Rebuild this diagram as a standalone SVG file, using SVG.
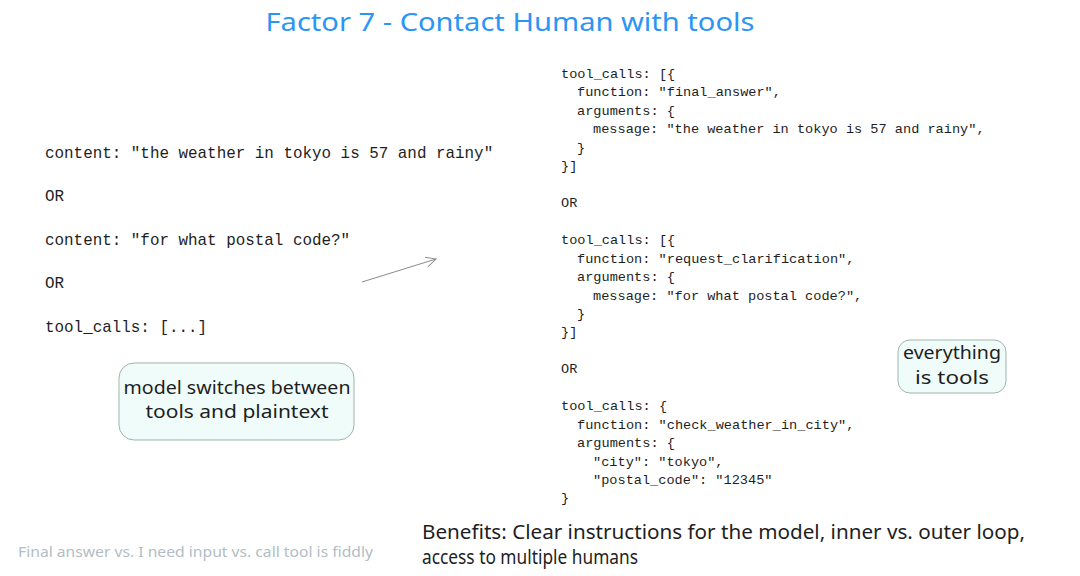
<svg xmlns="http://www.w3.org/2000/svg" width="1080" height="576" viewBox="0 0 1080 576">
<defs>
<style>
.hand{font-family:"Noto Sans","DejaVu Sans",sans-serif;fill:#1e1e1e}
.code{font-family:"Liberation Mono","DejaVu Sans Mono",monospace;fill:#1e1e1e}
.c1{font-size:15.9px}
.c2{font-size:13.6px}
.note{fill:#effcfa;stroke:#9fb5ab;stroke-width:1}
</style>
<marker id="arr" viewBox="0 0 12 12" refX="11" refY="6" markerWidth="12" markerHeight="12" markerUnits="userSpaceOnUse" orient="auto">
<path d="M1,1 L11,6 L1,11" fill="none" stroke="#8a8a8a" stroke-width="1"/>
</marker>
</defs>
<rect width="1080" height="576" fill="#ffffff"/>
<g id="title">
<text class="hand" x="510" y="31" font-size="26" text-anchor="middle" style="fill:#2b95f5" textLength="489" lengthAdjust="spacingAndGlyphs">Factor 7 - Contact Human with tools</text>
</g>
<g id="left-code">
<text class="code c1" x="45" y="158">content: "the weather in tokyo is 57 and rainy"</text>
<text class="code c1" x="45" y="201">OR</text>
<text class="code c1" x="45" y="245">content: "for what postal code?"</text>
<text class="code c1" x="45" y="288">OR</text>
<text class="code c1" x="45" y="332">tool_calls: [...]</text>
</g>
<g id="right-code">
<text class="code c2" x="561" y="78">tool_calls: [{</text>
<text class="code c2" x="577" y="96">function: "final_answer",</text>
<text class="code c2" x="577" y="115">arguments: {</text>
<text class="code c2" x="593" y="133">message: "the weather in tokyo is 57 and rainy",</text>
<text class="code c2" x="577" y="152">}</text>
<text class="code c2" x="561" y="170">}]</text>
<text class="code c2" x="561" y="207">OR</text>
<text class="code c2" x="561" y="244">tool_calls: [{</text>
<text class="code c2" x="577" y="263">function: "request_clarification",</text>
<text class="code c2" x="577" y="281">arguments: {</text>
<text class="code c2" x="593" y="300">message: "for what postal code?",</text>
<text class="code c2" x="577" y="318">}</text>
<text class="code c2" x="561" y="336">}]</text>
<text class="code c2" x="561" y="373">OR</text>
<text class="code c2" x="561" y="410">tool_calls: {</text>
<text class="code c2" x="577" y="429">function: "check_weather_in_city",</text>
<text class="code c2" x="577" y="447">arguments: {</text>
<text class="code c2" x="593" y="466">"city": "tokyo",</text>
<text class="code c2" x="593" y="484">"postal_code": "12345"</text>
<text class="code c2" x="561" y="502">}</text>
</g>
<g id="connectors">
<line x1="362" y1="282" x2="436" y2="259" stroke="#8a8a8a" stroke-width="1" marker-end="url(#arr)"/>
</g>
<g id="note-switch">
<rect class="note" x="119" y="363" width="235" height="77" rx="15"/>
<text class="hand" x="237" y="394" font-size="18" text-anchor="middle" textLength="227" lengthAdjust="spacingAndGlyphs">model switches between</text>
<text class="hand" x="237" y="418" font-size="18" text-anchor="middle" textLength="183" lengthAdjust="spacingAndGlyphs">tools and plaintext</text>
</g>
<g id="note-tools">
<rect class="note" x="898" y="340" width="108" height="53" rx="12"/>
<text class="hand" x="952" y="359" font-size="18" text-anchor="middle" textLength="98" lengthAdjust="spacingAndGlyphs">everything</text>
<text class="hand" x="952" y="384" font-size="18" text-anchor="middle" textLength="74" lengthAdjust="spacingAndGlyphs">is tools</text>
</g>
<g id="fiddly">
<text class="hand" x="18" y="557" font-size="14" style="fill:#b4bcc6" textLength="355" lengthAdjust="spacingAndGlyphs">Final answer vs. I need input vs. call tool is fiddly</text>
</g>
<g id="benefits">
<text class="hand" x="422" y="539" font-size="19" textLength="603" lengthAdjust="spacingAndGlyphs">Benefits: Clear instructions for the model, inner vs. outer loop,</text>
<text class="hand" x="422" y="564" font-size="19" textLength="216" lengthAdjust="spacingAndGlyphs">access to multiple humans</text>
</g>
</svg>
